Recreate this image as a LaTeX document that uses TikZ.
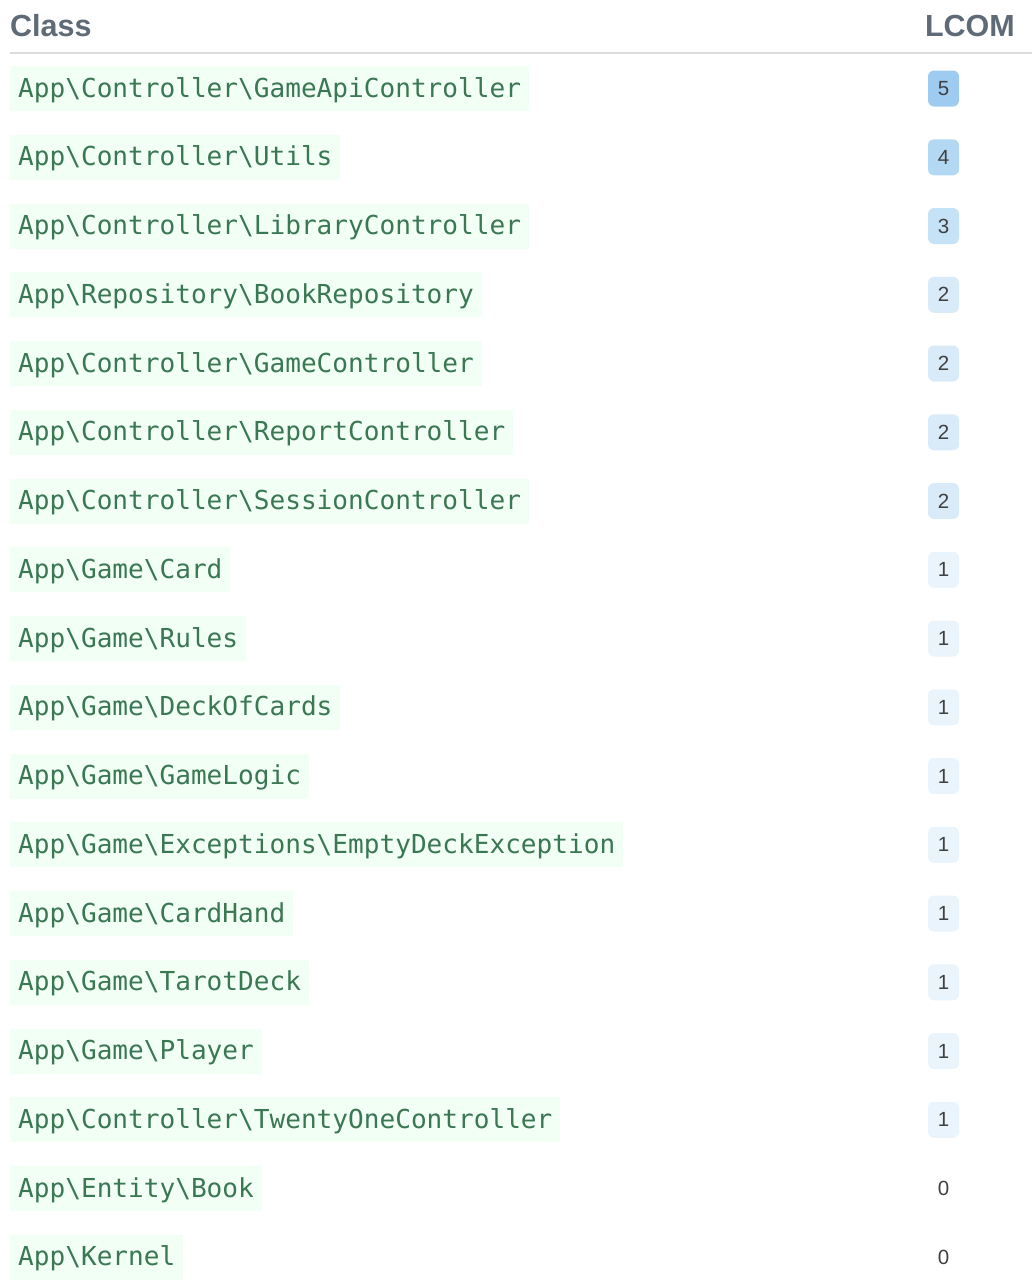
\documentclass[tikz,border=0pt]{standalone}
\usepackage{fontspec}
\setmainfont{Liberation Sans}
\setmonofont{DejaVu Sans Mono}
\definecolor{headgray}{HTML}{5E6A76}
\definecolor{rulegray}{HTML}{DCDCDC}
\definecolor{codegreen}{HTML}{3A7853}
\definecolor{codebg}{HTML}{F2FFF4}
\definecolor{lcomfive}{HTML}{9ECCF0}
\definecolor{lcomfour}{HTML}{B3D8F4}
\definecolor{lcomthree}{HTML}{C6E2F7}
\definecolor{lcomtwo}{HTML}{D9EBF9}
\definecolor{lcomone}{HTML}{EAF4FC}
\newcommand{\bs}{\textbackslash}
\tikzset{
  cls/.style={anchor=west,fill=codebg,text=codegreen,inner xsep=8pt,minimum height=45pt,
    text height=19pt,text depth=2pt,font=\ttfamily\fontsize{26.1}{26}\selectfont},
  lcom/.style={fill=#1,rounded corners=6pt,minimum width=31pt,minimum height=36pt,inner sep=0pt,
    text=black!75,font=\fontsize{20.5}{20}\selectfont},
  lcomzero/.style={inner sep=0pt,text=black!75,font=\fontsize{20.5}{20}\selectfont},
  head/.style={text=headgray,inner sep=0pt,font=\bfseries\fontsize{30.5}{30}\selectfont}
}
\begin{document}
\begin{tikzpicture}[x=1pt,y=-1pt]
	\useasboundingbox (0,0) rectangle (1032,1282);
	\node[head,anchor=base west] (hclass) at (10,36) {Class};
	\node[head,anchor=base east] (hlcom) at (1015,36) {LCOM};
	\draw[rulegray,line width=2pt] (10,53) -- (1032,53);
	\node[cls] (c1) at (10,88.5) {App\bs Controller\bs GameApiController};
	\node[cls] (c2) at (10,157.3) {App\bs Controller\bs Utils};
	\node[cls] (c3) at (10,226) {App\bs Controller\bs LibraryController};
	\node[cls] (c4) at (10,294.8) {App\bs Repository\bs BookRepository};
	\node[cls] (c5) at (10,363.5) {App\bs Controller\bs GameController};
	\node[cls] (c6) at (10,432.3) {App\bs Controller\bs ReportController};
	\node[cls] (c7) at (10,501) {App\bs Controller\bs SessionController};
	\node[cls] (c8) at (10,569.8) {App\bs Game\bs Card};
	\node[cls] (c9) at (10,638.5) {App\bs Game\bs Rules};
	\node[cls] (c10) at (10,707.3) {App\bs Game\bs DeckOfCards};
	\node[cls] (c11) at (10,776) {App\bs Game\bs GameLogic};
	\node[cls] (c12) at (10,844.8) {App\bs Game\bs Exceptions\bs EmptyDeckException};
	\node[cls] (c13) at (10,913.5) {App\bs Game\bs CardHand};
	\node[cls] (c14) at (10,982.3) {App\bs Game\bs TarotDeck};
	\node[cls] (c15) at (10,1051) {App\bs Game\bs Player};
	\node[cls] (c16) at (10,1119.8) {App\bs Controller\bs TwentyOneController};
	\node[cls] (c17) at (10,1188.5) {App\bs Entity\bs Book};
	\node[cls] (c18) at (10,1257.3) {App\bs Kernel};
	\node[lcom=lcomfive] (l1) at (943.5,88.5) {5};
	\node[lcom=lcomfour] (l2) at (943.5,157.3) {4};
	\node[lcom=lcomthree] (l3) at (943.5,226) {3};
	\node[lcom=lcomtwo] (l4) at (943.5,294.8) {2};
	\node[lcom=lcomtwo] (l5) at (943.5,363.5) {2};
	\node[lcom=lcomtwo] (l6) at (943.5,432.3) {2};
	\node[lcom=lcomtwo] (l7) at (943.5,501) {2};
	\node[lcom=lcomone] (l8) at (943.5,569.8) {1};
	\node[lcom=lcomone] (l9) at (943.5,638.5) {1};
	\node[lcom=lcomone] (l10) at (943.5,707.3) {1};
	\node[lcom=lcomone] (l11) at (943.5,776) {1};
	\node[lcom=lcomone] (l12) at (943.5,844.8) {1};
	\node[lcom=lcomone] (l13) at (943.5,913.5) {1};
	\node[lcom=lcomone] (l14) at (943.5,982.3) {1};
	\node[lcom=lcomone] (l15) at (943.5,1051) {1};
	\node[lcom=lcomone] (l16) at (943.5,1119.8) {1};
	\node[lcomzero] (l17) at (943.5,1188.5) {0};
	\node[lcomzero] (l18) at (943.5,1257.3) {0};
\end{tikzpicture}
\end{document}
